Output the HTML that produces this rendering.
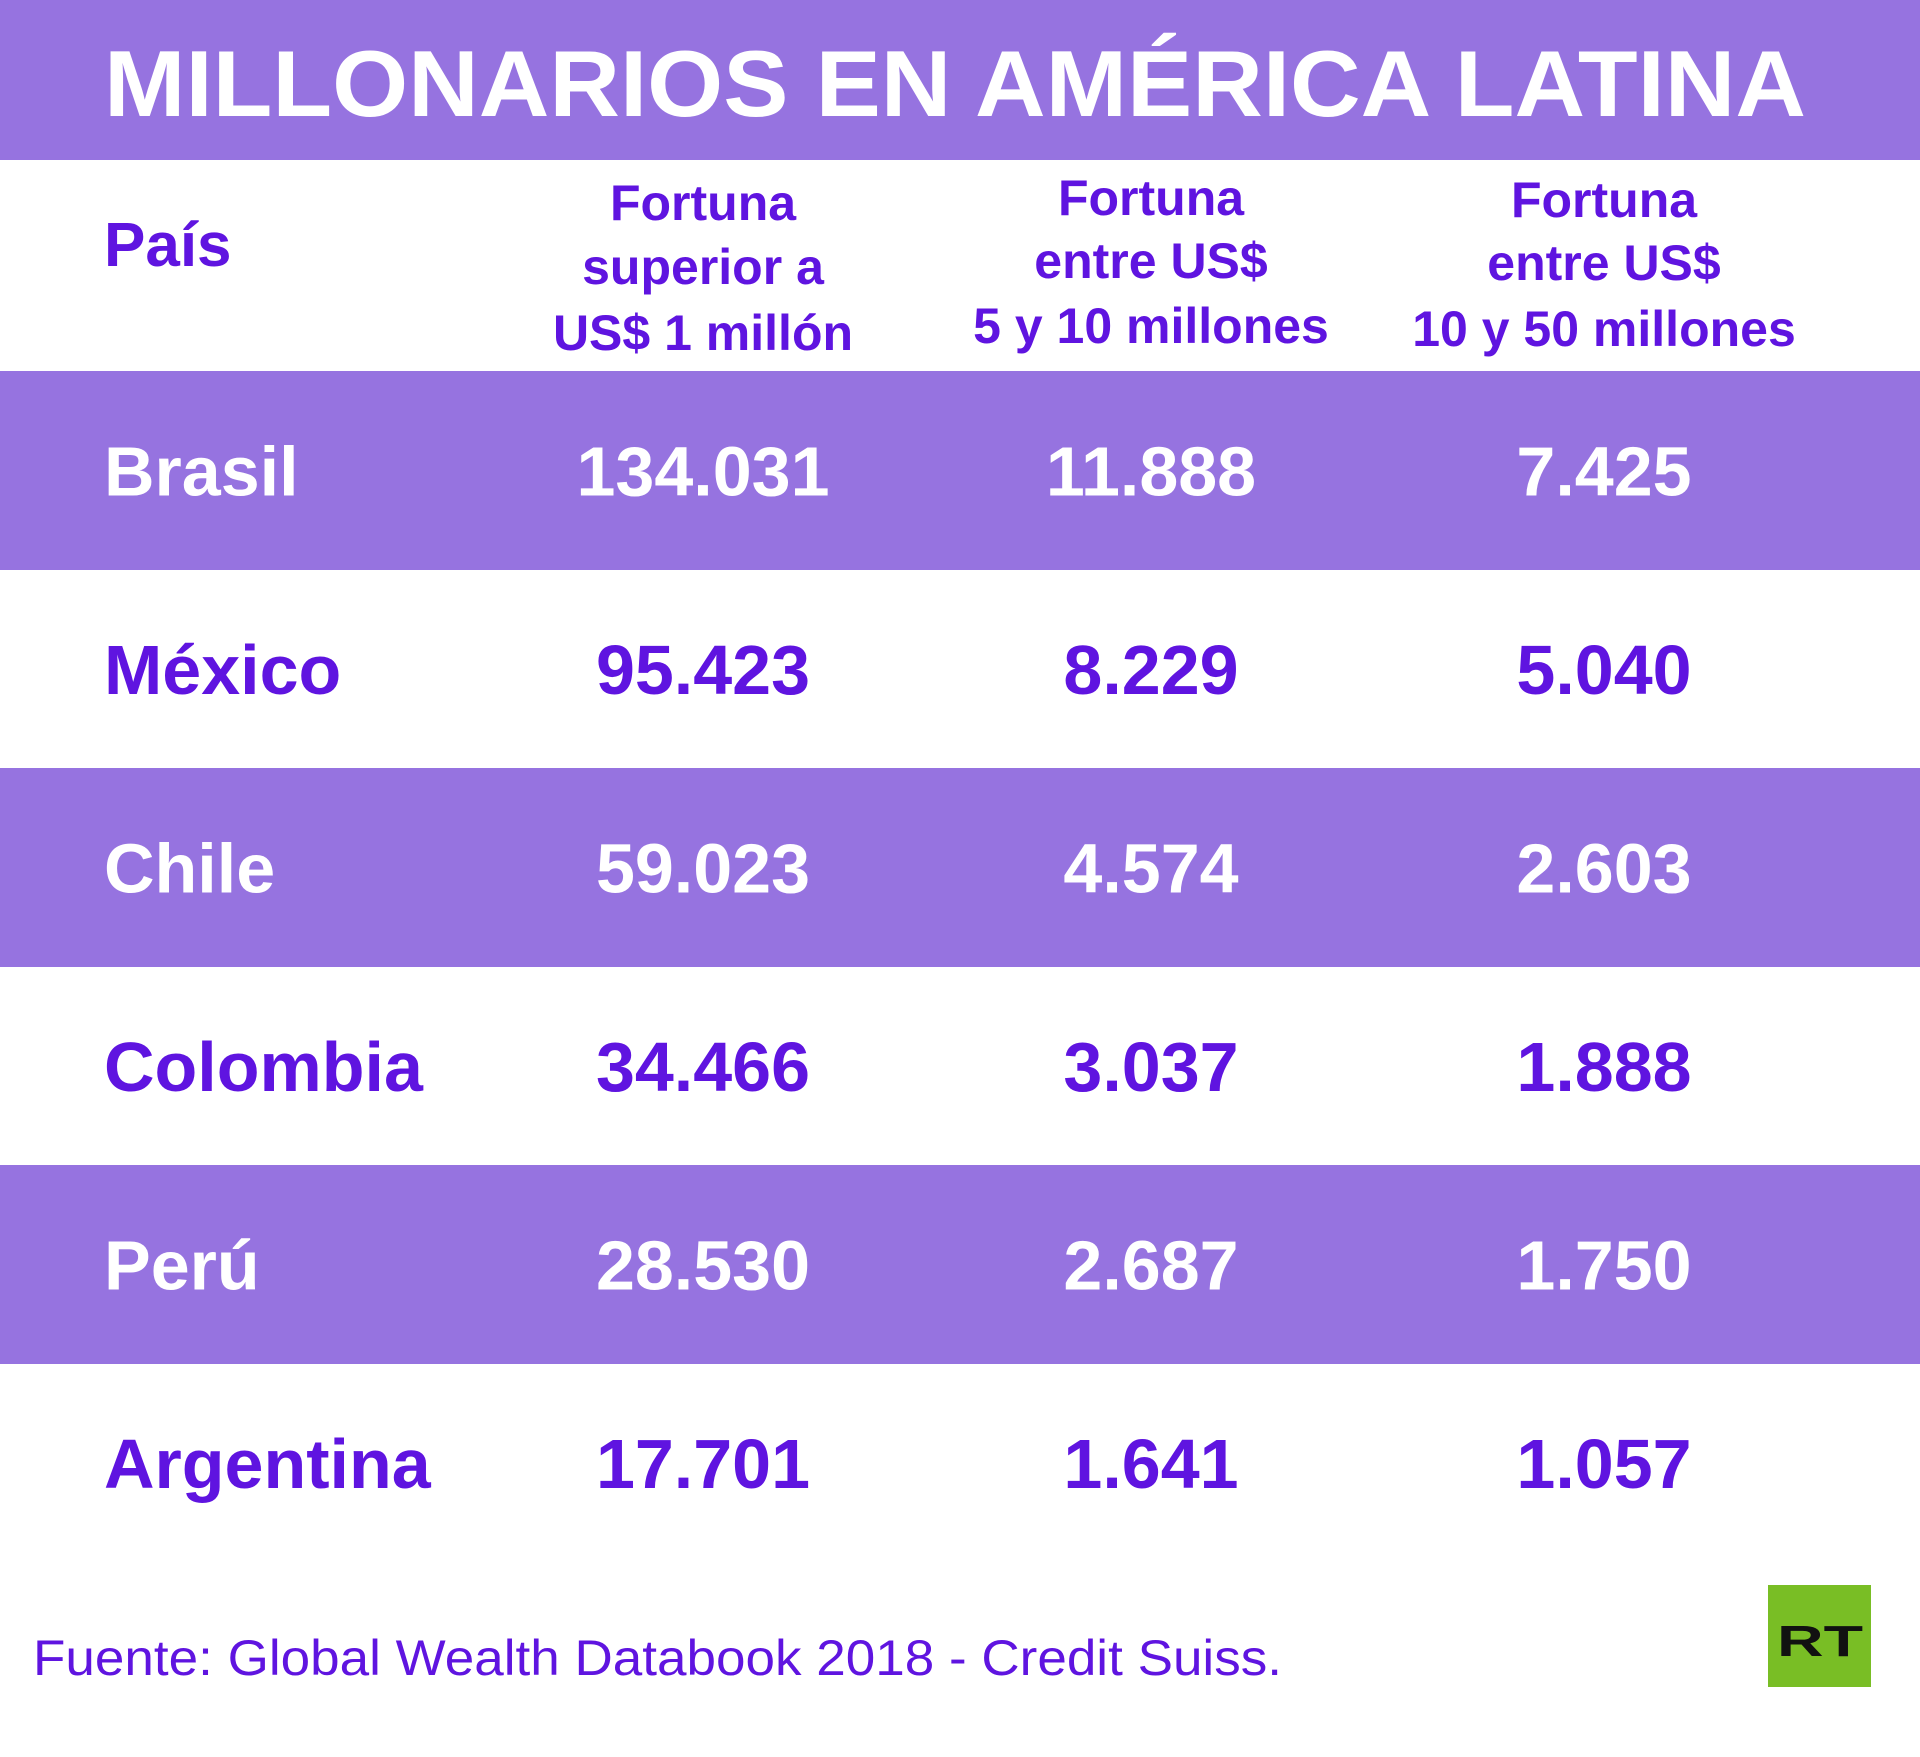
<!DOCTYPE html>
<html><head><meta charset="utf-8"><style>
html,body{margin:0;padding:0;background:#fff;}
svg{display:block;font-family:"Liberation Sans",sans-serif;}
</style></head><body>
<svg id="chart" width="1920" height="1757" viewBox="0 0 1920 1757" xmlns="http://www.w3.org/2000/svg">
<rect x="0" y="0" width="1920" height="160" fill="#9673e0"/>
<text x="104" y="116" font-size="94" font-weight="bold" fill="#fff" textLength="1702" lengthAdjust="spacingAndGlyphs">MILLONARIOS EN AMÉRICA LATINA</text>
<g font-weight="bold" fill="#5f14e0" text-anchor="middle" font-size="50">
<text x="104" y="266" text-anchor="start" font-size="62">País</text>
<text><tspan x="703" y="220">Fortuna</tspan><tspan x="703" y="284">superior a</tspan><tspan x="703" y="350">US$ 1 millón</tspan></text>
<text><tspan x="1151" y="215">Fortuna</tspan><tspan x="1151" y="278">entre US$</tspan><tspan x="1151" y="343">5 y 10 millones</tspan></text>
<text><tspan x="1604" y="217">Fortuna</tspan><tspan x="1604" y="280">entre US$</tspan><tspan x="1604" y="346">10 y 50 millones</tspan></text>
</g>
<g id="rows"></g>
<text x="33" y="1675" font-size="50" fill="#5f14e0" textLength="1249" lengthAdjust="spacingAndGlyphs">Fuente: Global Wealth Databook 2018 - Credit Suiss.</text>
<g>
<rect x="1768" y="1585" width="103" height="102" fill="#79be25"/>
<text x="1820" y="1656" font-size="44" font-weight="bold" fill="#111" text-anchor="middle" textLength="86" lengthAdjust="spacingAndGlyphs">RT</text>
</g>
</svg>
<script>
const countries = ["Brasil","México","Chile","Colombia","Perú","Argentina"];
const over1M = ["134.031","95.423","59.023","34.466","28.530","17.701"];
const between5and10M = ["11.888","8.229","4.574","3.037","2.687","1.641"];
const between10and50M = ["7.425","5.040","2.603","1.888","1.750","1.057"];

const NS = "http://www.w3.org/2000/svg";
const g = document.getElementById('rows');
const top0 = 371, rowH = 198.5;
const colX = [703, 1151, 1604];
const cols = [over1M, between5and10M, between10and50M];
countries.forEach((c, i) => {
  const y0 = top0 + i * rowH;
  const purple = i % 2 === 0;
  if (purple) {
    const r = document.createElementNS(NS, 'rect');
    
    
    r.setAttribute('x', 0); r.setAttribute('y', y0);
    r.setAttribute('width', 1920); r.setAttribute('height', rowH + 0.5);
    r.setAttribute('fill', '#9673e0');
    g.appendChild(r);
  }
  const fill = purple ? '#ffffff' : '#5f14e0';
  const by = y0 + rowH / 2 + 25;
  const t = document.createElementNS(NS, 'text');
  
  
  t.setAttribute('x', 104); t.setAttribute('y', by);
  t.setAttribute('font-size', 70); t.setAttribute('font-weight', 'bold');
  t.setAttribute('fill', fill);
  t.textContent = c;
  g.appendChild(t);
  cols.forEach((arr, j) => {
    const v = document.createElementNS(NS, 'text');
    
    
    v.setAttribute('x', colX[j]); v.setAttribute('y', by);
    v.setAttribute('text-anchor', 'middle');
    v.setAttribute('font-size', 70); v.setAttribute('font-weight', 'bold');
    v.setAttribute('fill', fill);
    v.textContent = arr[i];
    g.appendChild(v);
  });
});
</script>
</body></html>
